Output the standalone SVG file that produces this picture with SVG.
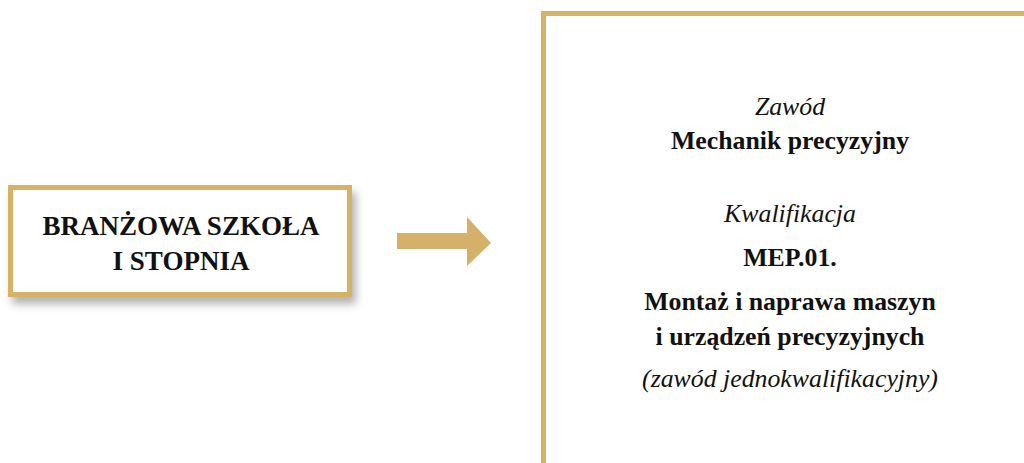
<svg xmlns="http://www.w3.org/2000/svg" width="1024" height="463" viewBox="0 0 1024 463">
<style>
.box{fill:#ffffff;stroke:#d5b266;stroke-width:5}
.t{font-family:"Liberation Serif","Times New Roman",serif;fill:#111111;text-anchor:middle}
.b{font-weight:bold}
.i{font-style:italic}
.r{font-size:25.8px}
</style>
<defs>
<filter id="sh" x="-10%" y="-20%" width="130%" height="150%">
<feDropShadow dx="4" dy="7" stdDeviation="4" flood-color="#000000" flood-opacity="0.3"/>
</filter>
</defs>
<rect width="1024" height="463" fill="#ffffff"/>
<g id="node-szkola">
<rect class="box" x="10.5" y="187.5" width="339" height="107" filter="url(#sh)"/>
<text class="t b" x="181" y="235" font-size="27">BRANŻOWA SZKOŁA</text>
<text class="t b" x="181" y="270" font-size="27">I STOPNIA</text>
</g>
<g id="connectors">
<polygon points="397,233 467,233 467,217 491,243 467,266 467,249 397,249" fill="#d5b068"/>
</g>
<g id="node-zawod">
<rect class="box" x="543.5" y="13.5" width="500" height="470"/>
<text class="t i r" x="790" y="115">Zawód</text>
<text class="t b r" x="790" y="149">Mechanik precyzyjny</text>
<text class="t i r" x="790" y="222">Kwalifikacja</text>
<text class="t b r" x="790" y="266">MEP.01.</text>
<text class="t b r" x="790" y="310">Montaż i naprawa maszyn</text>
<text class="t b r" x="790" y="345">i urządzeń precyzyjnych</text>
<text class="t i r" x="790" y="387">(zawód jednokwalifikacyjny)</text>
</g>
</svg>
